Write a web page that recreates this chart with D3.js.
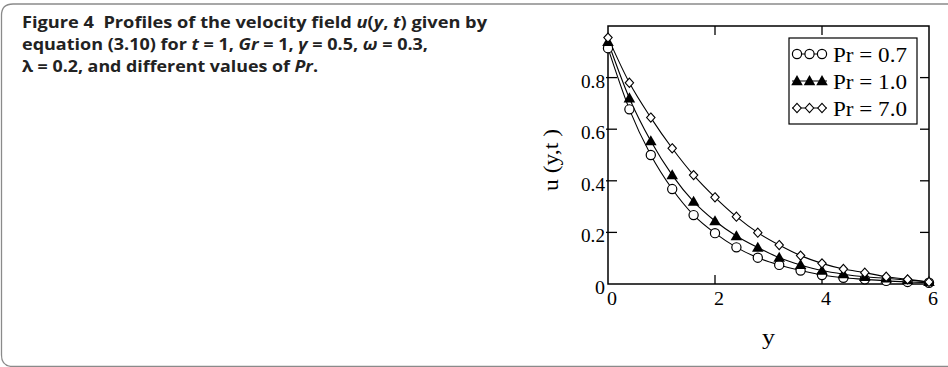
<!DOCTYPE html>
<html>
<head>
<meta charset="utf-8">
<script src="https://cdn.jsdelivr.net/npm/d3@7"></script>
<style>
  body { margin: 0; background: #fff; }
  svg { display: block; }
</style>
</head>
<body>
<div id="chart"></div>
<script>
// data
const yPos = [0, 0.4, 0.8, 1.2, 1.6, 2.0, 2.4, 2.8, 3.2, 3.6, 4.0, 4.4, 4.8, 5.2, 5.6, 6.0];
const pr07 = [0.914, 0.677, 0.500, 0.368, 0.267, 0.197, 0.142, 0.102, 0.074, 0.052, 0.035, 0.024, 0.018, 0.012, 0.008, 0.005];
const pr10 = [0.939, 0.720, 0.554, 0.422, 0.319, 0.244, 0.186, 0.141, 0.102, 0.074, 0.052, 0.038, 0.028, 0.022, 0.015, 0.008];
const pr70 = [0.955, 0.780, 0.645, 0.526, 0.422, 0.336, 0.261, 0.199, 0.151, 0.110, 0.080, 0.058, 0.044, 0.028, 0.018, 0.008];
const seriesNames = ["Pr = 0.7", "Pr = 1.0", "Pr = 7.0"];
const seriesMarks = ["circle", "triangle", "diamond"];
const xTicks = [0, 2, 4, 6];
const yTicks = [0, 0.2, 0.4, 0.6, 0.8];

const width = 948, height = 367;
const serif = "'Liberation Serif', 'Times New Roman', serif";

const svg = d3.select("#chart")
  .append("svg")
  .attr("width", width)
  .attr("height", height);

// outer frame with rounded corners (open on the right)
svg.append("path")
  .attr("d", "M948,4 L13,4 Q1.5,4 1.5,15.5 L1.5,355 Q1.5,366.5 13,366.5 L948,366.5")
  .attr("fill", "none")
  .attr("stroke", "#8a8a8a")
  .attr("stroke-width", 1.3);

// caption, one text element per line so each can be fitted to its width
const capLines = [
  [["Figure 4  Profiles of the velocity field ", 0], ["u", 1], ["(", 0], ["y", 1], [", ", 0], ["t", 1], [") given by", 0]],
  [["equation (3.10) for ", 0], ["t", 1], [" = 1, ", 0], ["Gr", 1], [" = 1, ", 0], ["γ", 1], [" = 0.5, ", 0], ["ω", 1], [" = 0.3,", 0]],
  [["λ = 0.2, and different values of ", 0], ["Pr", 1], [".", 0]]
];
const capWidths = [465, 406, 296];
capLines.forEach((line, i) => {
  const t = svg.append("text")
    .attr("x", 22).attr("y", 28 + i * 22)
    .attr("font-family", "'Open Sans', 'Noto Sans', sans-serif")
    .attr("font-weight", 700)
    .attr("font-size", 16.5)
    .attr("fill", "#222")
    .attr("textLength", capWidths[i])
    .attr("lengthAdjust", "spacingAndGlyphs")
    .style("white-space", "pre");
  line.forEach(part => {
    t.append("tspan")
      .text(part[0])
      .attr("font-style", part[1] ? "italic" : "normal");
  });
});

// plot area
const x = d3.scaleLinear().domain([0, 6]).range([608, 929]);
const y = d3.scaleLinear().domain([0, 1]).range([284, 26]);

const plot = svg.append("g");

// frame
plot.append("rect")
  .attr("x", x(0)).attr("y", y(1))
  .attr("width", x(6) - x(0)).attr("height", y(0) - y(1))
  .attr("fill", "none").attr("stroke", "#000").attr("stroke-width", 1.5);

// inward ticks on all four sides
const tk = 9;
xTicks.filter(d => d > 0 && d < 6).forEach(d => {
  plot.append("line").attr("x1", x(d)).attr("x2", x(d)).attr("y1", y(0)).attr("y2", y(0) - tk).attr("stroke", "#000").attr("stroke-width", 1.3);
  plot.append("line").attr("x1", x(d)).attr("x2", x(d)).attr("y1", y(1)).attr("y2", y(1) + tk).attr("stroke", "#000").attr("stroke-width", 1.3);
});
yTicks.filter(d => d > 0).forEach(d => {
  plot.append("line").attr("x1", x(0) - 2).attr("x2", x(0) + tk).attr("y1", y(d)).attr("y2", y(d)).attr("stroke", "#000").attr("stroke-width", 1.3);
  plot.append("line").attr("x1", x(6)).attr("x2", x(6) - tk).attr("y1", y(d)).attr("y2", y(d)).attr("stroke", "#000").attr("stroke-width", 1.3);
});

// tick labels (the original lettering is a little wide, hence textLength)
plot.selectAll(".xl").data(xTicks).enter().append("text")
  .attr("x", d => x(d) - 1).attr("y", 305)
  .attr("font-family", serif).attr("font-size", 18)
  .attr("textLength", 10).attr("lengthAdjust", "spacingAndGlyphs")
  .text(d => d);
plot.selectAll(".yl").data(yTicks).enter().append("text")
  .attr("x", d => x(0) - 3 - (d === 0 ? 10 : 24)).attr("y", d => y(d) + 10)
  .attr("font-family", serif).attr("font-size", 18)
  .attr("textLength", d => d === 0 ? 10 : 24).attr("lengthAdjust", "spacingAndGlyphs")
  .text(d => d);

// axis titles
svg.append("text")
  .attr("transform", "translate(558,191) rotate(-90)")
  .attr("font-family", serif).attr("font-size", 21)
  .attr("textLength", 62).attr("lengthAdjust", "spacingAndGlyphs")
  .style("white-space", "pre")
  .text("u (y,t )");
svg.append("text")
  .attr("x", 762).attr("y", 344)
  .attr("font-family", serif).attr("font-size", 21)
  .attr("textLength", 13).attr("lengthAdjust", "spacingAndGlyphs")
  .text("y");

// markers
function drawMark(g, kind, cx, cy) {
  if (kind === "circle") {
    g.append("circle").attr("cx", cx).attr("cy", cy).attr("r", 4.6)
      .attr("fill", "#fff").attr("stroke", "#000").attr("stroke-width", 1.2);
  } else if (kind === "triangle") {
    g.append("path").attr("d", d3.symbol(d3.symbolTriangle, 58)())
      .attr("transform", `translate(${cx},${cy + 0.8})`).attr("fill", "#000");
  } else {
    g.append("path").attr("d", "M0,-4.6 L4.2,0 L0,4.6 L-4.2,0 Z")
      .attr("transform", `translate(${cx},${cy})`)
      .attr("fill", "#fff").attr("stroke", "#000").attr("stroke-width", 1.1);
  }
}

const allSeries = [pr07, pr10, pr70];
const line = d3.line()
  .x((d, i) => x(yPos[i]))
  .y(d => y(d))
  .curve(d3.curveMonotoneX);

allSeries.forEach(vals => {
  plot.append("path").datum(vals)
    .attr("d", line)
    .attr("fill", "none").attr("stroke", "#000").attr("stroke-width", 1.1);
});
allSeries.forEach((vals, k) => {
  const g = plot.append("g");
  vals.forEach((v, i) => drawMark(g, seriesMarks[k], x(yPos[i]), y(v)));
});

// legend
const leg = svg.append("g");
leg.append("rect")
  .attr("x", 789).attr("y", 38).attr("width", 128).attr("height", 86)
  .attr("fill", "#fff").attr("stroke", "#000").attr("stroke-width", 1.2);
seriesNames.forEach((name, k) => {
  const cy = 54 + k * 27;
  leg.append("line").attr("x1", 792).attr("x2", 827).attr("y1", cy).attr("y2", cy)
    .attr("stroke", "#000").attr("stroke-width", 1);
  [797, 809.5, 822].forEach(cx => drawMark(leg, seriesMarks[k], cx, cy));
  leg.append("text")
    .attr("x", 833).attr("y", cy + 7.5)
    .attr("font-family", serif).attr("font-size", 22)
    .attr("textLength", 74).attr("lengthAdjust", "spacingAndGlyphs")
    .style("white-space", "pre")
    .text(name);
});
</script>
</body>
</html>
